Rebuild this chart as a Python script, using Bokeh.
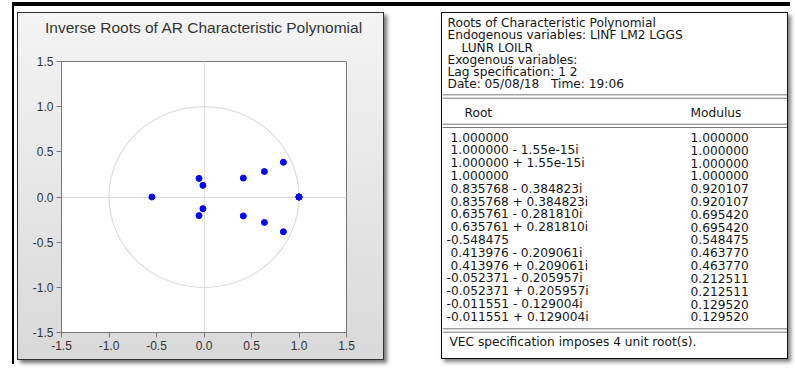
from bokeh.plotting import figure
from bokeh.models import FixedTicker, Range1d, PrintfTickFormatter, Title
from bokeh.layouts import row, column
from bokeh.embed import file_html
from bokeh.resources import INLINE
from bokeh.core.properties import value

# ---- data ----
root_re = [1.000000, 1.000000, 1.000000, 1.000000, 0.835768, 0.835768,
           0.635761, 0.635761, -0.548475, 0.413976, 0.413976,
           -0.052371, -0.052371, -0.011551, -0.011551]
root_im = [0.0, -1.55e-15, 1.55e-15, 0.0, -0.384823, 0.384823,
           -0.281810, 0.281810, 0.0, -0.209061, 0.209061,
           -0.205957, 0.205957, -0.129004, 0.129004]
root_labels = ["1.000000", "1.000000 - 1.55e-15i", "1.000000 + 1.55e-15i", "1.000000",
               "0.835768 - 0.384823i", "0.835768 + 0.384823i",
               "0.635761 - 0.281810i", "0.635761 + 0.281810i", "-0.548475",
               "0.413976 - 0.209061i", "0.413976 + 0.209061i",
               "-0.052371 - 0.205957i", "-0.052371 + 0.205957i",
               "-0.011551 - 0.129004i", "-0.011551 + 0.129004i"]
modulus_labels = ["1.000000", "1.000000", "1.000000", "1.000000", "0.920107", "0.920107",
                  "0.695420", "0.695420", "0.548475", "0.463770", "0.463770",
                  "0.212511", "0.212511", "0.129520", "0.129520"]
axis_ticks = [-1.5, -1.0, -0.5, 0.0, 0.5, 1.0, 1.5]
header_lines = ["Roots of Characteristic Polynomial",
                "Endogenous variables: LINF LM2 LGGS",
                "LUNR LOILR",
                "Exogenous variables:",
                "Lag specification: 1 2",
                "Date: 05/08/18\u00a0\u00a0 Time: 19:06"]
header_indent = [0, 0, 1, 0, 0, 0]
col_headers = ["Root", "Modulus"]
footer_text = "VEC specification imposes 4 unit root(s)."
chart_title = "Inverse Roots of AR Characteristic Polynomial"

FONT = "Liberation Sans"

# ---- left chart ----
p1 = figure(width=367, height=348, x_range=Range1d(-1.5, 1.5), y_range=Range1d(-1.5, 1.5),
            output_backend="svg", toolbar_location=None, title=None,
            min_border_left=43, min_border_right=39, min_border_top=48, min_border_bottom=29)
p1.margin = (6, 0, 4, 3)
p1.styles = {"border": "1px solid #333",
             "box-shadow": "3px 3px 4px rgba(0,0,0,0.55)",
             "background": "linear-gradient(#f4f4f4, #d9d9d9)"}
p1.border_fill_alpha = 0
p1.background_fill_color = "white"
p1.outline_line_color = "#777777"

# spacing panel between frame and title, then the title itself
p1.add_layout(Title(text=" ", text_font_size="1px", standoff=21), "above")
p1.add_layout(Title(text=chart_title, text_font=FONT, text_font_size="15.5px",
                    text_font_style="normal", text_color="#333333", align="center",
                    standoff=4), "above")

for ax in (p1.xaxis[0], p1.yaxis[0]):
    ax.ticker = FixedTicker(ticks=axis_ticks)
    ax.formatter = PrintfTickFormatter(format="%.1f")
    ax.major_label_text_font = FONT
    ax.major_label_text_font_size = "12px"
    ax.major_label_text_color = "#333333"
    ax.axis_line_color = "#777777"
    ax.major_tick_line_color = "#777777"
    ax.major_tick_out = 5
    ax.major_tick_in = 0
    ax.minor_tick_line_color = None
    ax.major_label_standoff = 3

p1.xgrid.ticker = FixedTicker(ticks=[0])
p1.ygrid.ticker = FixedTicker(ticks=[0])
p1.grid.grid_line_color = "#dedede"

p1.ellipse(x=0, y=0, width=2, height=2, fill_color=None, line_color="#dddddd", line_width=1.2)
p1.scatter(root_re, root_im, size=6, color="#0000ff")

# ---- right table ----
TW, TH = 347, 347
p2 = figure(width=TW, height=TH, x_range=Range1d(0, TW), y_range=Range1d(TH, 0),
            output_backend="svg", toolbar_location=None,
            x_axis_location=None, y_axis_location=None, min_border=0)
p2.styles = {"border": "1px solid #111",
             "box-shadow": "3px 3px 4px rgba(0,0,0,0.5)"}
p2.outline_line_color = None
p2.grid.visible = False
p2.background_fill_color = "white"
p2.border_fill_color = "white"

TFONT = value("DejaVu Sans")
TSIZE = value("12.2px")
TCOL = "#151515"

hx = [5 + 14 * k for k in header_indent]
hy = [9.7 + 12.2 * i for i in range(len(header_lines))]
p2.text(x=hx, y=hy, text=header_lines, text_font=TFONT, text_font_size=TSIZE,
        text_baseline="middle", text_color=TCOL)

p2.text(x=[22, 248], y=[99.7, 99.7], text=col_headers, text_font=TFONT, text_font_size=TSIZE,
        text_baseline="middle", text_color=TCOL)

ry = [124 + 12.81 * i for i in range(len(root_labels))]
rx = [4 if s.startswith("-") else 8 for s in root_labels]
p2.text(x=rx, y=ry, text=root_labels, text_font=TFONT, text_font_size=TSIZE,
        text_baseline="middle", text_color=TCOL)
p2.text(x=[248] * len(modulus_labels), y=ry, text=modulus_labels, text_font=TFONT,
        text_font_size=TSIZE, text_baseline="middle", text_color=TCOL)

p2.text(x=[7], y=[328], text=[footer_text], text_font=TFONT, text_font_size=TSIZE,
        text_baseline="middle", text_color=TCOL)

sep_y = [81.3, 84.7, 110.7, 114, 315.3, 318.7]
p2.segment(x0=[0] * len(sep_y), x1=[TW] * len(sep_y), y0=sep_y, y1=sep_y,
           line_color="#777777", line_width=1)

right = column(p2, margin=(6, 2, 0, 57))

layout = row(p1, right, margin=(2, 0, 0, 12),
             styles={"border-top": "4px solid #000", "border-left": "2px solid #000"})

open("out.html", "w").write(file_html(layout, INLINE))
